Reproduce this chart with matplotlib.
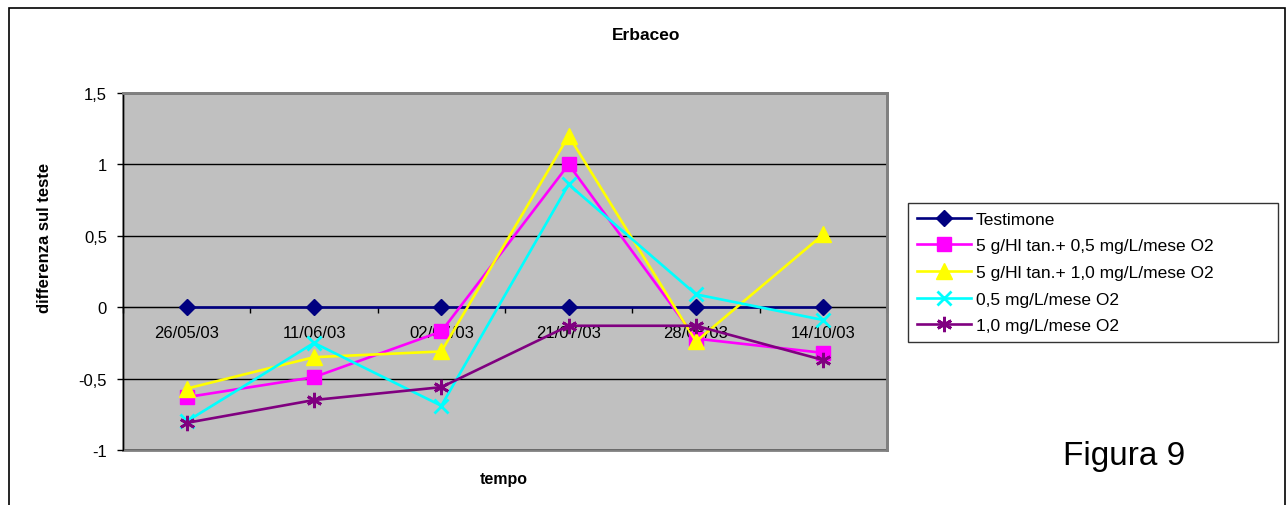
import matplotlib.pyplot as plt
from matplotlib.patches import Rectangle
from matplotlib.ticker import FixedLocator, FuncFormatter

plt.rcParams['font.family'] = ['Liberation Sans', 'DejaVu Sans']

# dates of the samplings
dates = ['26/05/03', '11/06/03', '02/07/03', '21/07/03', '28/08/03', '14/10/03']

# series
testimone = [0, 0, 0, 0, 0, 0]
tan_05 = [-0.63, -0.49, -0.17, 1.0, -0.22, -0.32]
tan_10 = [-0.57, -0.35, -0.31, 1.2, -0.24, 0.51]
ox_05 = [-0.80, -0.25, -0.69, 0.86, 0.09, -0.09]
ox_10 = [-0.81, -0.65, -0.56, -0.13, -0.13, -0.37]

labels = ['Testimone',
          '5 g/Hl tan.+ 0,5 mg/L/mese O2',
          '5 g/Hl tan.+ 1,0 mg/L/mese O2',
          '0,5 mg/L/mese O2',
          '1,0 mg/L/mese O2']
y_ticks = [-1, -0.5, 0, 0.5, 1, 1.5]

W, H = 1286, 506
fig = plt.figure(figsize=(W / 100, H / 100), dpi=100)
ax = fig.add_axes([123 / W, 55 / H, 764 / W, 357 / H])
ax.set_facecolor('#C0C0C0')

x = list(range(len(dates)))
lw = 1.9
ax.plot(x, testimone, color='#000080', lw=lw, marker='D', ms=8, label=labels[0], zorder=3)
ax.plot(x, tan_05, color='#FF00FF', lw=lw, marker='s', ms=10, label=labels[1], zorder=4)
ax.plot(x, tan_10, color='#FFFF00', lw=lw, marker='^', ms=11, label=labels[2], zorder=5)
ax.plot(x, ox_05, color='#00FFFF', lw=lw, marker='x', ms=10, mew=2, label=labels[3], zorder=6)
ax.plot(x, ox_10, color='#800080', lw=lw, marker=(6, 2, 0), ms=11, mew=2, label=labels[4], zorder=7)

ax.set_xlim(-0.5, len(dates) - 0.5)
ax.set_ylim(-1, 1.5)

# y axis, comma decimals
ax.yaxis.set_major_locator(FixedLocator(y_ticks))
ax.yaxis.set_major_formatter(FuncFormatter(lambda v, p: ('%g' % v).replace('.', ',')))
ax.grid(axis='y', color='black', lw=1, zorder=1)
ax.tick_params(axis='y', direction='out', length=4.5, width=1, labelsize=12, pad=7)

# category axis crossing at zero
ax.spines['bottom'].set_position(('data', 0))
ax.spines['bottom'].set_color('black')
ax.spines['bottom'].set_zorder(2)
ax.set_xticks(x)
ax.set_xticklabels(dates)
ax.set_xticks([i + 0.5 for i in range(-1, len(dates))], minor=True)
ax.tick_params(axis='x', which='major', length=0, labelsize=12, pad=13)
ax.tick_params(axis='x', which='minor', direction='out', length=4, width=1)
for t in ax.get_xticklabels():
    t.set_zorder(2)

for s in ['top', 'right']:
    ax.spines[s].set_color('#808080')
    ax.spines[s].set_linewidth(2)
ax.spines['left'].set_color('black')
ax.add_patch(Rectangle((0, 0), 1, 1, transform=ax.transAxes, fill=False,
                       edgecolor='#808080', lw=2, zorder=0.5, clip_on=False))

fig.text(45 / W, 1 - 238 / H, 'differenza sul teste', rotation=90, ha='center', va='center',
         fontsize=12, fontweight='bold')
fig.text(504 / W, 1 - 480 / H, 'tempo', ha='center', va='center', fontsize=11.5, fontweight='bold')
fig.text(646 / W, 1 - 36 / H, 'Erbaceo', ha='center', va='center', fontsize=12.5, fontweight='bold')

leg = fig.legend(loc='upper left', mode='expand',
                 bbox_to_anchor=(908 / W, 1 - 341 / H, 370 / W, 137 / H), fontsize=12.5,
                 frameon=True, fancybox=False, handlelength=3.1, handletextpad=0.3,
                 borderpad=0.5, labelspacing=0.66, borderaxespad=0)
leg.get_frame().set_edgecolor('black')
leg.get_frame().set_linewidth(1)

fig.text(1124 / W, 1 - 465 / H, 'Figura 9', ha='center', va='baseline', fontsize=24)

# outer frame of the chart object
fig.patches.append(Rectangle((9 / W, -0.1), 1276 / W, 1.1 - 9 / H,
                             transform=fig.transFigure, fill=False, edgecolor='black', lw=1.2))

plt.savefig('out.png', dpi=100)
